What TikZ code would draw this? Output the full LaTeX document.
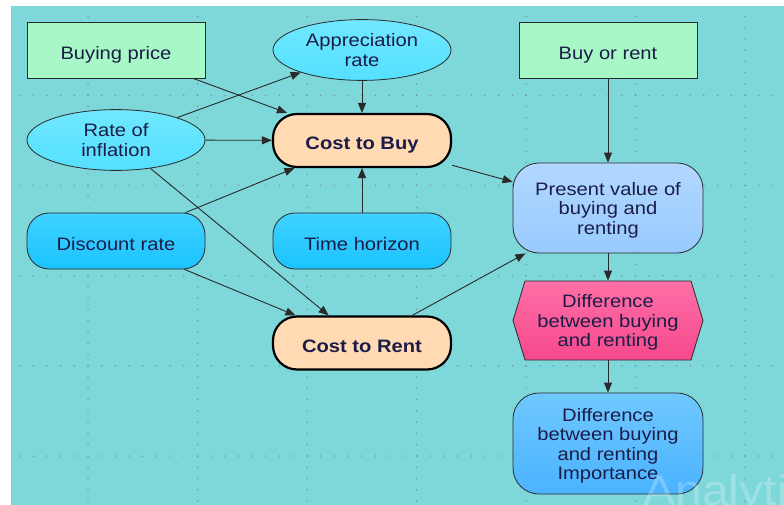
\documentclass[tikz,border=0pt]{standalone}
\usepackage{fontspec}
\setmainfont[FakeStretch=1.12]{Liberation Sans}
\usetikzlibrary{arrows.meta,shapes.geometric}
\definecolor{bgteal}{HTML}{7ED7D9}
\definecolor{griddot}{HTML}{6F8F92}
\definecolor{inkblue}{HTML}{1C1C48}
\definecolor{edgegray}{HTML}{2A2A2A}
\definecolor{mint}{HTML}{A8F7C6}
\definecolor{chancetop}{HTML}{70E8FF}
\definecolor{chancebot}{HTML}{54E0FF}
\definecolor{consttop}{HTML}{40D2FF}
\definecolor{constbot}{HTML}{1BC3FF}
\definecolor{peach}{HTML}{FFDAB2}
\definecolor{pvtop}{HTML}{B2D8FF}
\definecolor{pvbot}{HTML}{98CAFF}
\definecolor{difftop}{HTML}{FF70A6}
\definecolor{diffbot}{HTML}{F5488C}
\definecolor{imptop}{HTML}{70C8FF}
\definecolor{impbot}{HTML}{4AB3FF}
\newcommand{\labelfont}{\fontsize{18}{19.5}\selectfont}
\tikzset{
  base/.style={draw=edgegray, line width=0.8pt, align=center, inner sep=0pt,
    minimum width=178pt, text height=24pt, text depth=5pt},
  twolines/.style={text height=38pt},
  threelines/.style={text height=57.5pt},
  fourlines/.style={text height=77.5pt},
  decision/.style={base, rectangle, minimum height=56pt, fill=mint},
  chance/.style={base, ellipse, minimum height=54pt,
    top color=chancetop, bottom color=chancebot},
  constant/.style={base, rectangle, rounded corners=22pt, minimum height=56pt,
    top color=consttop, bottom color=constbot},
  costbox/.style={base, rectangle, rounded corners=24pt, minimum height=53pt,
    draw=black, line width=2.2pt, fill=peach, font=\labelfont\bfseries},
  resultbox/.style={base, rectangle, rounded corners=26pt, minimum width=190pt},
  link/.style={draw=edgegray, line width=0.9pt, -{Triangle[length=10pt, width=8pt]}}
}
\begin{document}
\begin{tikzpicture}[x=1pt, y=-1pt, font=\labelfont, text=inkblue]
  \useasboundingbox (0,0) rectangle (784,505);
  \fill[white] (0,0) rectangle (784,505);
  \fill[bgteal] (11,6) rectangle (784,505);
  % dotted grid
  \foreach \k in {0,...,6} {
    \foreach \j in {1,...,44}
      \fill[griddot] ({88+109.5*\k},{5+11.275*\j}) circle (0.75pt);
  }
  \foreach \k in {1,...,5} {
    \foreach \j in {-5,...,50}
      \fill[griddot] ({88+13.6875*\j},{5+90.2*\k}) circle (0.75pt);
  }

  \node[decision] (price) at (116,50) {Buying price};
  \node[decision] (choice) at (608,50) {Buy or rent};
  \node[chance, twolines] (apprec) at (362,50) {Appreciation\\rate};
  \node[chance, twolines] (inflation) at (116,140) {Rate of\\inflation};
  \node[costbox] (buy) at (362,140.5) {Cost to Buy};
  \node[constant] (discount) at (116,241) {Discount rate};
  \node[constant] (horizon) at (362,241) {Time horizon};
  \node[costbox] (rent) at (362,343) {Cost to Rent};
  \node[resultbox, threelines, minimum height=90pt, top color=pvtop, bottom color=pvbot] (pv) at (608,208)
    {Present value of\\buying and\\renting};
  \shade[top color=difftop, bottom color=diffbot, draw=edgegray, line width=0.8pt]
    (525,281) -- (691,281) -- (703,320.5) -- (691,360) -- (525,360) -- (513,320.5) -- cycle;
  \node[base, threelines, draw=none, minimum width=190pt, minimum height=79pt] (diff) at (608,320.5)
    {Difference\\between buying\\and renting};
  \node[resultbox, fourlines, minimum height=101pt, top color=imptop, bottom color=impbot] (imp) at (608,443.5)
    {Difference\\between buying\\and renting\\Importance};

  \foreach \a/\b in {price/buy, inflation/apprec, inflation/buy, inflation/rent,
    discount/buy, discount/rent, apprec/buy, horizon/buy, buy/pv, rent/pv,
    choice/pv, pv/diff, diff/imp}
    \draw[link] (\a) -- (\b);

  \begin{scope}
    \clip (0,0) rectangle (784,505);
    \node[anchor=base west, text=white, opacity=0.25, inner sep=0pt,
      font=\fontsize{43}{43}\selectfont] (mark) at (643,505) {Analytica};
  \end{scope}
\end{tikzpicture}
\end{document}
